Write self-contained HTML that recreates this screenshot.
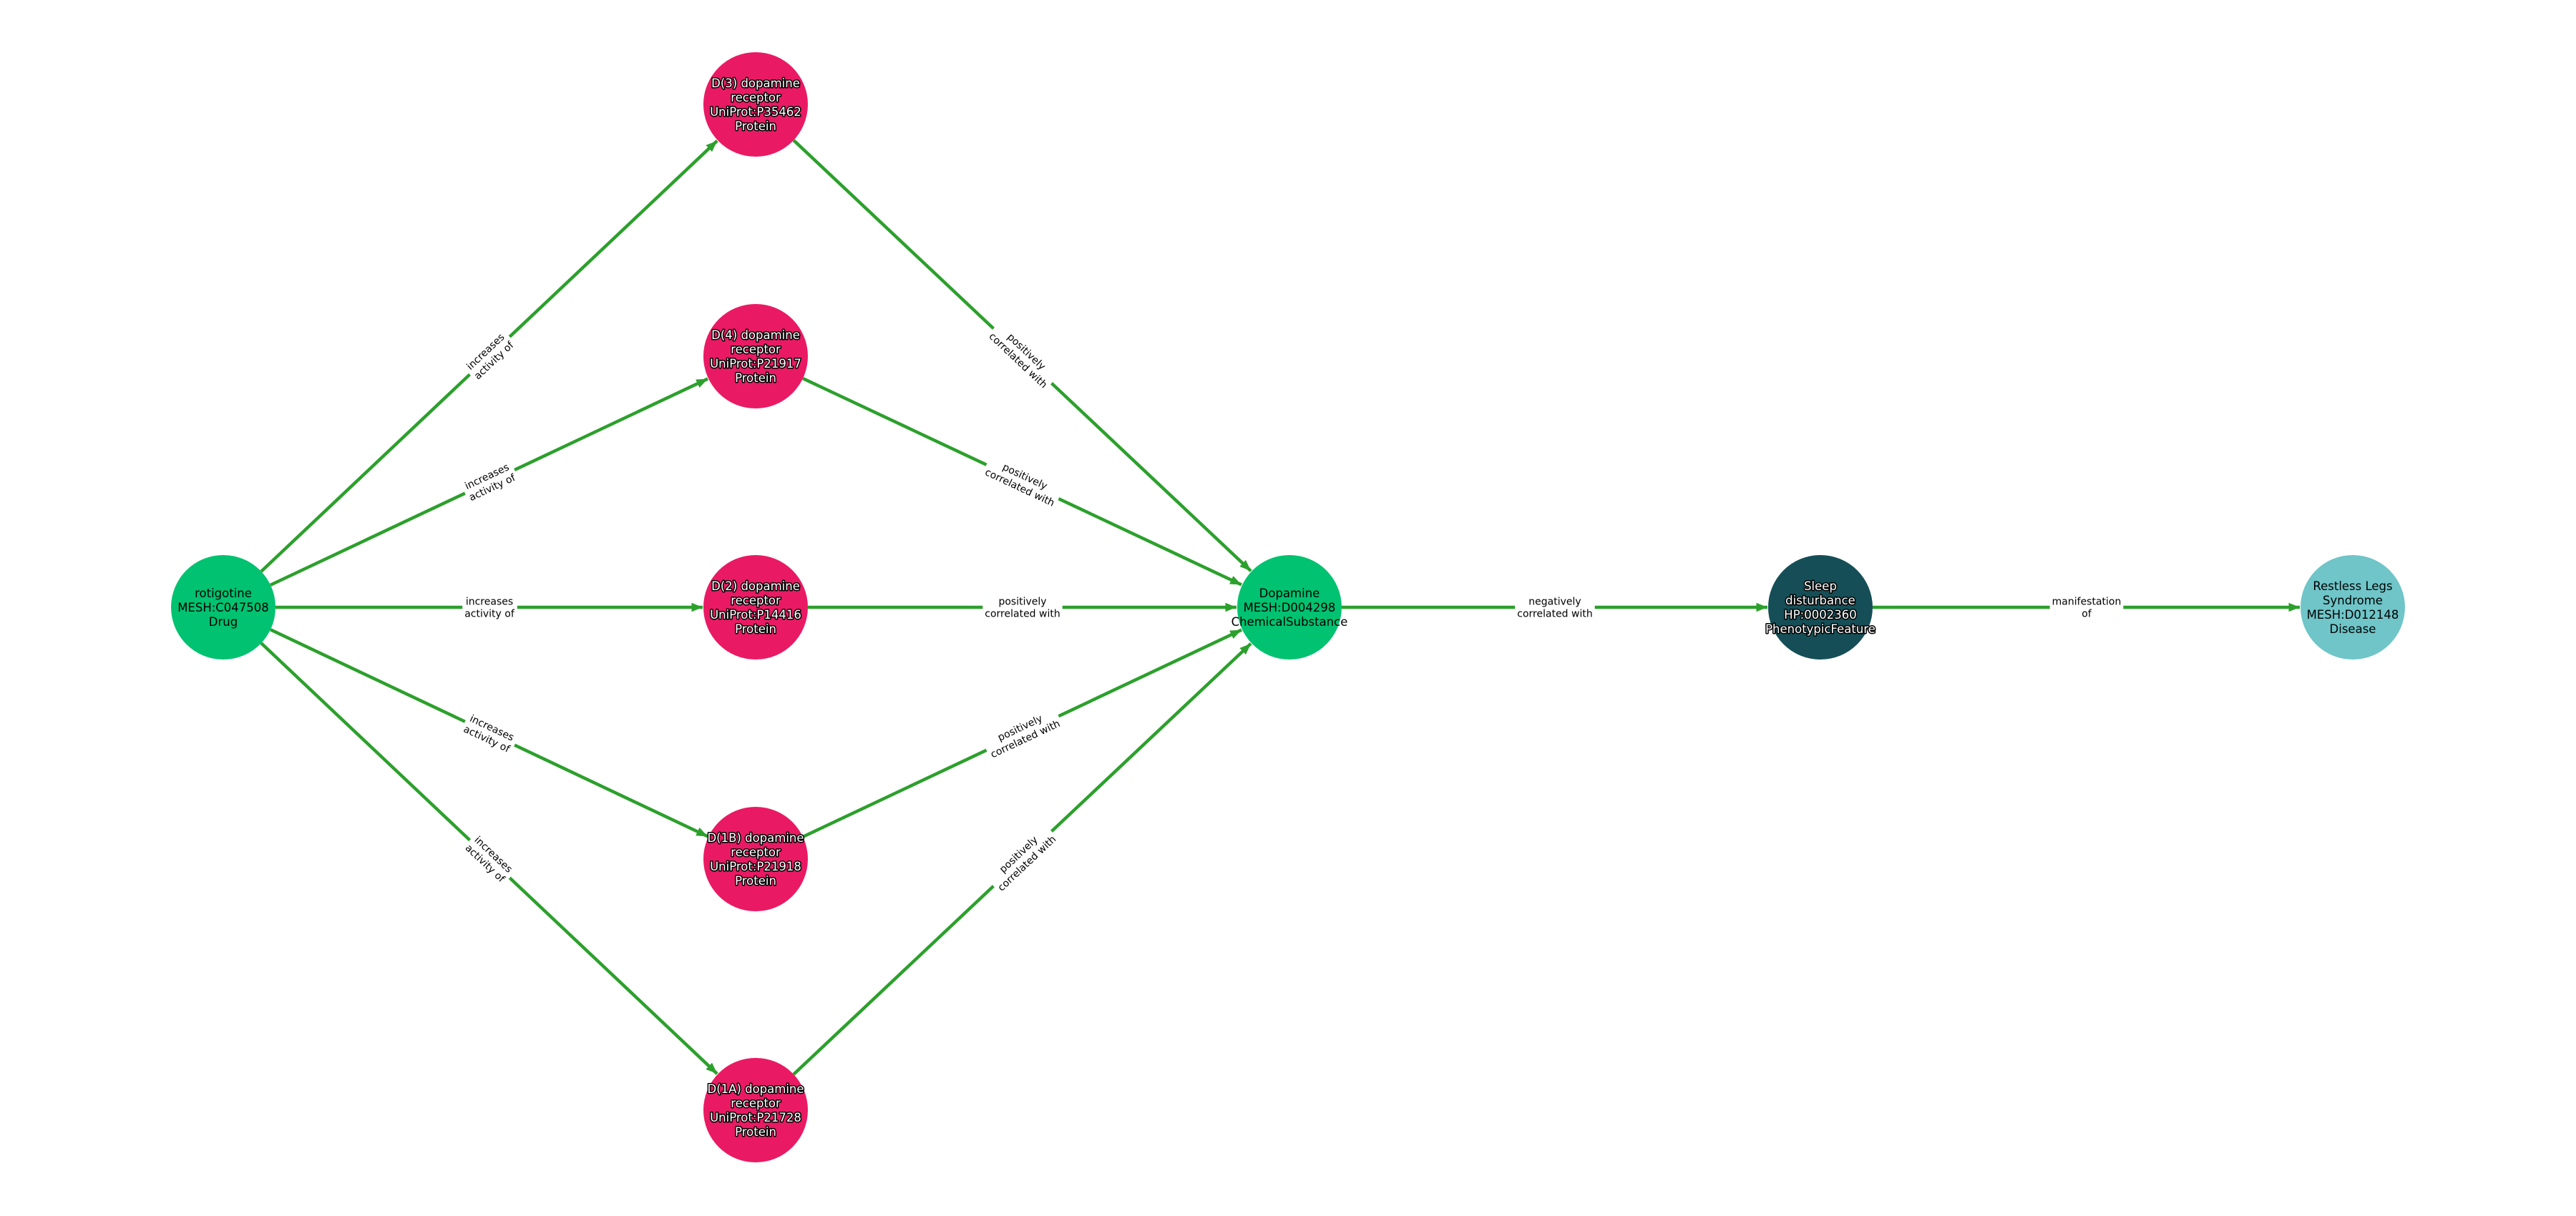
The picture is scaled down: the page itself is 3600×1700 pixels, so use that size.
<!DOCTYPE html>
<html><head><meta charset="utf-8"><style>
html,body{margin:0;padding:0;background:#fff;}
svg{display:block;font-family:"DejaVu Sans","Liberation Sans",sans-serif;}
</style></head><body>
<svg id="s" width="3600" height="1700" viewBox="0 0 3600 1700" xmlns="http://www.w3.org/2000/svg">
<defs><marker id="ah" viewBox="0 0 10 10" refX="10" refY="5" markerWidth="3.5" markerHeight="3.5" orient="auto" markerUnits="strokeWidth"><path d="M0,1 L10,5 L0,9 z" fill="#2ca02c"/></marker></defs>
<g id="edges"></g><g id="labels"></g><g id="nodes"></g>
</svg>
<script>
const R=73, NS="http://www.w3.org/2000/svg";
const N={
rot:{x:312,y:849,c:"#00c270",t:["rotigotine","MESH:C047508","Drug"],w:false},
d3:{x:1056,y:146,c:"#e91a63",t:["D(3) dopamine","receptor","UniProt:P35462","Protein"],w:true},
d4:{x:1056,y:498,c:"#e91a63",t:["D(4) dopamine","receptor","UniProt:P21917","Protein"],w:true},
d2:{x:1056,y:849,c:"#e91a63",t:["D(2) dopamine","receptor","UniProt:P14416","Protein"],w:true},
d1b:{x:1056,y:1201,c:"#e91a63",t:["D(1B) dopamine","receptor","UniProt:P21918","Protein"],w:true},
d1a:{x:1056,y:1552,c:"#e91a63",t:["D(1A) dopamine","receptor","UniProt:P21728","Protein"],w:true},
dop:{x:1802,y:849,c:"#00c270",t:["Dopamine","MESH:D004298","ChemicalSubstance"],w:false},
sl:{x:2544,y:849,c:"#154e56",t:["Sleep","disturbance","HP:0002360","PhenotypicFeature"],w:true},
rls:{x:3288,y:849,c:"#6fc5c8",t:["Restless Legs","Syndrome","MESH:D012148","Disease"],w:false}
};
const inc=["increases","activity of"],pos=["positively","correlated with"];
const E=[["rot","d3",inc],["rot","d4",inc],["rot","d2",inc],["rot","d1b",inc],["rot","d1a",inc],
["d3","dop",pos],["d4","dop",pos],["d2","dop",pos],["d1b","dop",pos],["d1a","dop",pos],
["dop","sl",["negatively","correlated with"]],["sl","rls",["manifestation","of"]]];
const eg=document.getElementById("edges"),lg=document.getElementById("labels"),ng=document.getElementById("nodes");
function el(t,a,p){const e=document.createElementNS(NS,t);for(const k in a)e.setAttribute(k,a[k]);p.appendChild(e);return e;}
for(const [a,b,l] of E){const A=N[a],B=N[b];const dx=B.x-A.x,dy=B.y-A.y,d=Math.hypot(dx,dy),ux=dx/d,uy=dy/d;
el("line",{x1:A.x+ux*R,y1:A.y+uy*R,x2:B.x-ux*(R+1),y2:B.y-uy*(R+1),stroke:"#2ca02c","stroke-width":4.5,"marker-end":"url(#ah)"},eg);
const mx=(A.x+B.x)/2,my=(A.y+B.y)/2;let ang=Math.atan2(dy,dx)*180/Math.PI;if(ang>90)ang-=180;if(ang<-90)ang+=180;
const g=el("g",{transform:`translate(${mx},${my}) rotate(${ang})`},lg);
const r=el("rect",{fill:"#fff"},g);
const t=el("text",{"font-size":14,"text-anchor":"middle",fill:"#000"},g);
l.forEach((s,i)=>{const ts=el("tspan",{x:0,y:(i-(l.length-1)/2)*17+5},t);ts.textContent=s;});
const bb=t.getBBox();r.setAttribute("x",bb.x-3);r.setAttribute("y",bb.y-2);r.setAttribute("width",bb.width+6);r.setAttribute("height",bb.height+4);}
for(const k in N){const n=N[k];el("circle",{cx:n.x,cy:n.y,r:R,fill:n.c},ng);
const t=el("text",{"font-size":16.5,"text-anchor":"middle",fill:n.w?"#fff":"#000",stroke:n.w?"#000":"none","stroke-width":n.w?3:0,"paint-order":"stroke","stroke-linejoin":"round"},ng);
n.t.forEach((s,i)=>{const ts=el("tspan",{x:n.x,y:n.y+(i-(n.t.length-1)/2)*20+6},t);ts.textContent=s;});}
</script>
</body></html>
